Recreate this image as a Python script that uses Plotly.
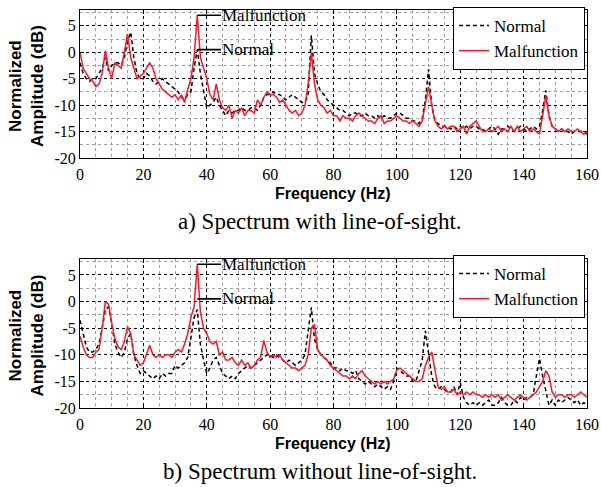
import plotly.graph_objects as go

# ---------------- data ----------------
FREQ = list(range(0, 161))  # Hz

TOP_NORMAL = [
    -2, -4, -5, -5.5, -5, -5, -4, -3, -1, -3.5,
    -2.5, -2, -2, -2.5, -1, 2, 3.8, -1, -4, -5,
    -5, -4, -4.5, -5.5, -6, -5.5, -5, -5.5, -6, -6.5,
    -7, -7.5, -8.5, -9, -8, -7.5, -3, 0.5, -4, -7,
    -10.5, -10, -9.5, -8.5, -10, -11, -12, -11, -11.5, -11,
    -11, -10.5, -11, -11, -10.5, -10.5, -11, -10, -8.5, -8,
    -8, -7.5, -8, -8, -8.5, -9, -8.5, -8, -8.5, -9,
    -9.5, -9.5, -8, 3.2, -4, -6, -7.5, -8, -9, -9.5,
    -10, -10.5, -11, -11, -11.5, -12, -11.5, -11.5, -12, -12,
    -11.5, -12, -12, -12.5, -12, -12.5, -12, -12.5, -12.5, -12,
    -11.5, -11.5, -12, -12.5, -12.5, -13, -13, -13.5, -12.5, -9,
    -3.2, -10, -13, -13.5, -14, -14, -14, -14.5, -14, -14.5,
    -14, -14.5, -14, -14.5, -14, -14, -14.5, -14.5, -15, -14.5,
    -14, -14.5, -15.5, -14.5, -14.5, -14, -14.5, -15, -14.5, -14,
    -14.5, -15, -14.5, -14, -14.5, -14, -11, -7.2, -12, -14,
    -14.5, -15, -14.5, -15, -15, -15.5, -15, -15, -15, -15, -15.5,
]

TOP_MALF = [
    0, -3, -4, -5, -5.5, -6.5, -6, -4, 0.3, -3,
    -5, -2, -2.5, -3, 0, 3.5, -1, -3, -5, -4.5,
    -4, -3, -2, -3, -5, -6, -7, -7.5, -8, -8.5,
    -8, -9, -8, -9.5, -7, -5, -1, 7, -1, -3,
    -5, -8, -9, -6, -9, -10.5, -11, -10, -12.5, -11,
    -11.5, -10.5, -12, -11, -11, -11.5, -9, -10, -8.5, -7.5,
    -8, -8, -8.5, -9.5, -9, -10, -11, -11.5, -11, -12,
    -11.5, -10, -6, 0, -6, -9, -10, -10.5, -11.5, -11,
    -12, -12, -13, -12, -12.5, -12.5, -13, -12, -11.5, -12,
    -12.5, -13, -13, -13.5, -12.5, -12, -13.5, -13, -13, -12.5,
    -12, -12.5, -13, -13, -13.5, -13, -13.5, -14, -13, -10,
    -6.5, -10, -13, -14, -14.5, -14, -14.5, -14, -14, -15,
    -14.5, -14, -15.5, -14, -13.5, -13, -14, -15, -15, -14.5,
    -15, -14.5, -14, -15, -14.5, -15, -14, -15, -14, -15,
    -14.5, -14, -15, -14.5, -15, -15.5, -12, -8.2, -12, -14,
    -14.5, -15, -14.5, -15, -14.5, -15, -15, -14.5, -15, -15.5, -15,
]

BOT_NORMAL = [
    -3.5, -6, -8.5, -9.5, -9.5, -9, -8, -5, -1.5, -1,
    -4, -8, -9.5, -10.5, -9.5, -7, -6, -10, -12, -13.5,
    -13, -13.5, -14, -14.5, -14, -14.5, -13.5, -14, -13.5, -13.5,
    -12, -12.5, -12, -11.5, -10.5, -7, -3, -1.5, -8, -11,
    -13.5, -12.5, -11, -10.5, -12, -13.5, -14, -14.5, -14, -14.5,
    -13.5, -13, -12.5, -12, -12.5, -12, -11.5, -11, -10.5, -10,
    -10, -10.5, -10, -10.5, -11, -11.5, -11, -11.5, -12, -11.5,
    -11, -10, -5, -1.1, -7, -9, -10, -10.5, -11, -11.5,
    -12.5, -12.5, -13, -12.5, -13, -13, -13.5, -13, -14.5, -15,
    -15.5, -15, -15.5, -16, -15.5, -16, -16.5, -16, -16.5, -15,
    -12.5, -13, -13.5, -14, -14, -15, -15, -13, -11, -5.5,
    -10, -14, -16, -16.5, -16, -16.5, -17, -17, -16, -17.5,
    -15.2, -18, -19, -19.5, -19, -19.5, -19, -19.5, -19, -18.5,
    -19.5, -19.5, -19, -18, -19, -19.5, -19.5, -18.5, -19, -18,
    -18.5, -18, -18, -17.5, -14, -10.7, -14, -17, -19.5, -18.5,
    -19.5, -18.5, -19, -18.5, -18, -18.5, -19, -18.5, -19.5, -19, -19.5,
]

BOT_MALF = [
    -6.5, -8.5, -10, -10.5, -10.5, -9.5, -9, -5, 0, -0.5,
    -4, -7, -8.5, -9, -7.5, -4.7, -6, -10, -11, -12,
    -11.5, -10, -8.2, -10, -10.5, -10, -10.5, -10, -10, -10.5,
    -9.5, -9, -9.5, -8, -6, -3, -1, 7, -2, -5,
    -6, -7.5, -8, -7.5, -10, -9.5, -11, -11, -10.5, -11.5,
    -12, -11, -12, -11.5, -12.5, -12, -11, -10.5, -7.3, -9.5,
    -10.5, -10, -10.5, -10, -11, -11.5, -12, -12.5, -12.5, -13,
    -12.5, -12, -10, -5, -4.3, -9, -10, -10.5, -11, -12,
    -12.5, -13, -13.5, -14, -14, -14.5, -14, -14.5, -13.5, -13,
    -14, -14.5, -15, -15.5, -15, -15.5, -15, -15.5, -15, -14.5,
    -12.8, -12.5, -13, -13.5, -14, -14.5, -15, -15, -14.5, -12,
    -10.5, -9.5, -13, -16, -16.5, -16, -17, -17, -16.5, -17.5,
    -17, -17.5, -17, -17.5, -17, -17.5, -17.5, -18, -17.5, -18,
    -17.5, -18, -17.5, -18.5, -18, -17.5, -18, -18.5, -18, -17.5,
    -18, -18.5, -18, -17.5, -17, -16, -15, -13, -14, -17,
    -18, -17.5, -17.5, -18, -17.5, -17.5, -18, -17.5, -17, -17.5, -18,
]

SERIES_NAMES = ["Normal", "Malfunction"]
X_TICKS = [0, 20, 40, 60, 80, 100, 120, 140, 160]
Y_TICKS = [-20, -15, -10, -5, 0, 5]
Y_TICK_TEXT = ["-20", "-15", "-10", "-5", "0", "5"]
CAPTIONS = ["a) Spectrum with line-of-sight.", "b) Spectrum without line-of-sight."]
X_TITLE = "Frequency (Hz)"
Y_TITLE = "Normalized<br>Amplitude (dB)"
PEAK_FREQ = 37
PEAK_LABELS = [("Malfunction", 7), ("Normal", 0.5)]

# ---------------- styling ----------------
W, H = 601, 487
RED = "#ff1428"
BLACK = "#000000"
SERIF = "Liberation Serif"
SANS = "Liberation Sans"

X_DOM = [80 / W, 587 / W]
PANELS = [  # (top px, bottom px)
    (10, 158),
    (259, 408),
]
LEGEND_TOPS = [7, 255]


def ydom(top, bottom):
    return [1 - bottom / H, 1 - top / H]


fig = go.Figure()

data_sets = [(TOP_NORMAL, TOP_MALF), (BOT_NORMAL, BOT_MALF)]
for i, (normal, malf) in enumerate(data_sets):
    xa = "x" if i == 0 else "x2"
    ya = "y" if i == 0 else "y2"
    lg = "legend" if i == 0 else "legend2"
    fig.add_trace(go.Scatter(
        x=FREQ, y=normal, mode="lines", name=SERIES_NAMES[0],
        line=dict(color=BLACK, width=1.5, dash="4px,3px"),
        xaxis=xa, yaxis=ya, legend=lg, cliponaxis=True,
    ))
    fig.add_trace(go.Scatter(
        x=FREQ, y=malf, mode="lines", name=SERIES_NAMES[1],
        line=dict(color=RED, width=1.5),
        xaxis=xa, yaxis=ya, legend=lg, cliponaxis=True,
    ))


def xaxis_cfg(anchor):
    return dict(
        domain=X_DOM, range=[0, 160], anchor=anchor, automargin=False,
        tickmode="array", tickvals=X_TICKS,
        ticks="inside", ticklen=4, tickcolor=BLACK,
        showline=True, linecolor=BLACK, linewidth=1, mirror="allticks",
        showgrid=True, gridcolor=BLACK, griddash="dot", gridwidth=1,
        minor=dict(dtick=5, tick0=0, showgrid=True, gridcolor="#a0a0a0",
                   griddash="dot", gridwidth=1),
        zeroline=False,
        tickfont=dict(family=SERIF, size=16, color=BLACK),
        ticklabelstandoff=2,
    )


def yaxis_cfg(anchor, dom):
    return dict(
        domain=dom, range=[-20, 8], anchor=anchor, automargin=False,
        tickmode="array", tickvals=Y_TICKS, ticktext=Y_TICK_TEXT,
        ticks="inside", ticklen=4, tickcolor=BLACK,
        showline=True, linecolor=BLACK, linewidth=1, mirror="allticks",
        showgrid=True, gridcolor=BLACK, griddash="dot", gridwidth=1,
        minor=dict(dtick=2.5, tick0=0, showgrid=True, gridcolor="#a0a0a0",
                   griddash="dot", gridwidth=1),
        zeroline=False,
        tickfont=dict(family=SERIF, size=16, color=BLACK),
    )


legend_common = dict(
    bgcolor="white", bordercolor=BLACK, borderwidth=1,
    font=dict(family=SERIF, size=17, color=BLACK),
    xanchor="left", yanchor="top", x=453 / W,
    tracegroupgap=0, itemwidth=30,
)

annotations = []
for i, (top, bottom) in enumerate(PANELS):
    xr = "x" if i == 0 else "x2"
    yr = "y" if i == 0 else "y2"
    # peak labels with leader lines
    for text, yv in PEAK_LABELS:
        annotations.append(dict(
            x=PEAK_FREQ, y=yv, xref=xr, yref=yr,
            ax=PEAK_FREQ + 7.5, ay=yv, axref=xr, ayref=yr,
            text=text, showarrow=True, arrowhead=0, arrowwidth=1.6,
            arrowcolor=BLACK, xanchor="left", yanchor="middle",
            font=dict(family=SERIF, size=17, color=BLACK),
            standoff=0, borderpad=0,
        ))
    # y title
    annotations.append(dict(
        x=26 / W, y=1 - ((top + bottom) / 2 + 2) / H, xref="paper", yref="paper",
        text="<b>" + Y_TITLE.replace("<br>", "</b><br><b>") + "</b>",
        textangle=-90, showarrow=False, xanchor="center", yanchor="middle",
        font=dict(family=SANS, size=17, color=BLACK),
    ))
    # x title
    annotations.append(dict(
        x=333 / W, y=1 - (bottom + 35) / H, xref="paper", yref="paper",
        text="<b>" + X_TITLE + "</b>", showarrow=False,
        xanchor="center", yanchor="middle",
        font=dict(family=SANS, size=16, color=BLACK),
    ))
    # caption
    annotations.append(dict(
        x=320 / W, y=1 - (bottom + 63) / H, xref="paper", yref="paper",
        text=CAPTIONS[i], showarrow=False,
        xanchor="center", yanchor="middle",
        font=dict(family=SERIF, size=23, color=BLACK),
    ))

fig.update_layout(
    width=W, height=H,
    margin=dict(l=0, r=0, t=0, b=0, autoexpand=False),
    paper_bgcolor="white", plot_bgcolor="white",
    xaxis=xaxis_cfg("y"),
    yaxis=yaxis_cfg("x", ydom(*PANELS[0])),
    xaxis2=xaxis_cfg("y2"),
    yaxis2=yaxis_cfg("x2", ydom(*PANELS[1])),
    legend=dict(legend_common, y=1 - LEGEND_TOPS[0] / H),
    legend2=dict(legend_common, y=1 - LEGEND_TOPS[1] / H),
    annotations=annotations,
    showlegend=True,
)

fig.write_html(
    "out.html",
    config={"displayModeBar": False},
    post_script="document.body.style.margin='0';document.body.style.overflow='hidden';",
)
